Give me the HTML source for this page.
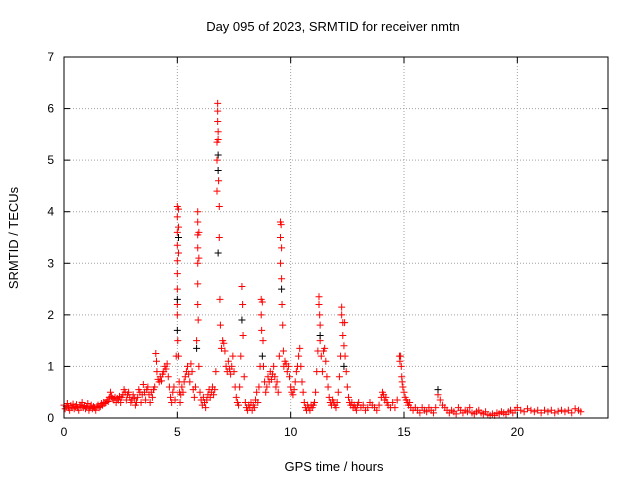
<!DOCTYPE html>
<html><head><meta charset="utf-8"><style>
body{margin:0;background:#fff;}
svg{font-family:"Liberation Sans",sans-serif;}
</style></head><body>
<svg id="c" width="640" height="480" xmlns="http://www.w3.org/2000/svg">
<text x="333" y="31" text-anchor="middle" font-size="13">Day 095 of 2023, SRMTID for receiver nmtn</text>
<text x="334" y="471" text-anchor="middle" font-size="13">GPS time / hours</text>
<text transform="translate(18,238) rotate(-90)" text-anchor="middle" font-size="13">SRMTID / TECUs</text>
<g id="grid"></g><g id="marks"></g>
<rect x="64" y="57" width="544" height="361" fill="none" stroke="#000"/>
</svg>
<script>
const xTicks=[0,5,10,15,20];
const yTicks=[0,1,2,3,4,5,6,7];
const redPts=[
[0.0,0.25],[0.05,0.18],[0.1,0.22],[0.15,0.28],[0.2,0.2],[0.25,0.15],[0.3,0.24],[0.35,0.2],[0.4,0.27],[0.45,0.18],[0.5,0.22],[0.55,0.26],[0.6,0.2],[0.65,0.15],[0.7,0.25],[0.75,0.22],[0.8,0.3],[0.85,0.2],[0.9,0.24],[0.95,0.18],[1.0,0.22],[1.05,0.28],[1.1,0.15],[1.15,0.2],[1.2,0.25],[1.25,0.18],[1.3,0.22],[1.35,0.2],[1.4,0.15],[1.45,0.22],[1.5,0.25],[1.55,0.2],[1.6,0.22],[1.65,0.28],[1.7,0.25],[1.75,0.3],[1.8,0.28],[1.85,0.3],[1.9,0.35],[1.95,0.32],
[2.0,0.4],[2.05,0.5],[2.1,0.42],[2.15,0.38],[2.2,0.35],[2.25,0.4],[2.3,0.3],[2.35,0.38],[2.4,0.35],[2.45,0.42],[2.5,0.3],[2.55,0.4],[2.6,0.45],[2.65,0.55],[2.7,0.5],[2.75,0.35],[2.8,0.45],[2.85,0.5],[2.9,0.4],[2.95,0.3],[3.0,0.35],[3.05,0.45],[3.1,0.38],[3.15,0.25],[3.2,0.3],[3.25,0.4],[3.3,0.55],[3.35,0.5],[3.4,0.3],[3.45,0.45],[3.5,0.65],[3.55,0.5],[3.6,0.35],[3.65,0.55],[3.7,0.6],[3.75,0.45],[3.8,0.3],[3.85,0.5],[3.9,0.4],[3.95,0.55],
[4.0,0.6],[4.05,1.25],[4.08,1.1],[4.1,0.9],[4.15,0.75],[4.2,0.7],[4.25,0.8],[4.3,0.72],[4.35,0.85],[4.4,0.9],[4.45,1.0],[4.5,0.95],[4.55,1.05],[4.6,0.8],[4.65,0.6],[4.7,0.4],[4.75,0.3],[4.8,0.5],[4.85,0.6],[4.9,0.35],[4.95,1.2],
[5.0,4.1],[5.0,3.9],[5.0,3.6],[5.0,3.35],[5.0,3.05],[5.0,2.8],[5.0,2.5],[5.0,2.2],[5.0,2.0],[5.02,1.5],[5.05,4.05],[5.05,3.7],[5.05,3.2],[5.05,1.2],[5.08,0.7],[5.1,0.5],[5.12,0.3],[5.15,0.45],[5.2,0.6],[5.25,0.5],[5.3,0.7],[5.35,0.8],[5.4,0.9],[5.45,1.0],[5.5,0.85],[5.55,0.7],[5.6,1.05],[5.65,0.9],[5.7,0.55],[5.75,0.4],[5.8,0.6],[5.85,1.5],
[5.9,4.0],[5.9,3.8],[5.9,3.55],[5.9,3.3],[5.9,3.0],[5.9,2.6],[5.9,2.2],[5.92,1.9],[5.95,3.6],[5.95,3.1],[5.95,1.0],[6.0,0.5],[6.05,0.35],[6.1,0.25],[6.15,0.4],[6.2,0.3],[6.25,0.2],[6.3,0.35],[6.35,0.45],[6.4,0.55],[6.45,0.4],[6.5,0.5],[6.55,0.6],[6.6,0.45],[6.65,0.55],[6.7,0.9],
[6.75,5.35],[6.75,5.0],[6.75,4.4],[6.78,6.1],[6.78,5.95],[6.78,5.75],[6.8,5.55],[6.8,5.4],[6.82,4.6],[6.85,4.1],[6.85,3.5],[6.88,2.3],[6.9,1.8],[6.95,1.35],[7.0,1.5],[7.05,1.45],[7.1,1.3],[7.15,1.0],[7.2,0.9],[7.25,1.1],[7.3,0.95],[7.35,0.85],[7.4,1.0],[7.45,1.2],[7.5,0.9],[7.55,0.6],[7.6,0.4],[7.65,0.3],[7.7,0.25],[7.75,0.6],[7.8,1.2],[7.85,2.55],[7.88,2.2],[7.9,1.6],[7.95,0.8],
[8.0,0.3],[8.05,0.2],[8.1,0.15],[8.15,0.25],[8.2,0.2],[8.25,0.3],[8.3,0.15],[8.35,0.25],[8.4,0.2],[8.45,0.35],[8.5,0.5],[8.55,0.3],[8.6,0.6],[8.65,1.0],[8.7,2.3],[8.7,2.0],[8.72,1.7],[8.75,2.25],[8.78,1.5],[8.8,1.0],[8.85,0.7],[8.9,0.5],[8.95,0.6],[9.0,0.8],[9.05,0.7],[9.1,0.9],[9.15,0.75],[9.2,0.85],[9.25,1.0],[9.3,0.8],[9.35,0.6],[9.4,0.7],[9.45,0.5],[9.5,1.2],
[9.55,3.8],[9.55,3.5],[9.55,3.0],[9.58,3.75],[9.6,3.3],[9.6,2.7],[9.62,2.2],[9.65,1.8],[9.68,1.3],[9.7,1.0],[9.75,1.1],[9.8,1.05],[9.85,0.9],[9.9,1.0],[9.95,0.8],[10.0,0.6],[10.05,0.5],[10.1,0.45],[10.15,0.55],[10.2,0.7],[10.25,0.9],[10.3,1.0],[10.35,1.2],[10.4,1.35],[10.45,1.0],[10.5,0.7],[10.55,0.5],[10.6,0.3],[10.65,0.2],[10.7,0.15],[10.75,0.25],[10.8,0.2],[10.85,0.15],[10.9,0.25],[10.95,0.2],[11.0,0.25],[11.05,0.3],[11.1,0.5],[11.15,0.9],[11.2,1.3],
[11.25,2.35],[11.25,2.2],[11.28,2.0],[11.3,1.8],[11.3,1.5],[11.35,1.2],[11.4,0.9],[11.45,1.3],[11.5,1.35],[11.55,1.1],[11.6,0.8],[11.65,0.6],[11.7,0.4],[11.75,0.3],[11.8,0.25],[11.85,0.35],[11.9,0.3],[11.95,0.25],[12.0,0.2],[12.05,0.3],[12.1,0.5],[12.15,0.8],[12.2,1.2],
[12.25,2.15],[12.25,2.0],[12.3,1.85],[12.3,1.6],[12.35,1.4],[12.38,1.85],[12.4,1.2],[12.45,0.9],[12.5,0.6],[12.55,0.4],[12.6,0.3],[12.65,0.25],[12.7,0.3],[12.75,0.2],[12.8,0.25],[12.85,0.2],[12.9,0.15],[12.95,0.25],[13.0,0.3],[13.1,0.2],[13.2,0.25],[13.3,0.15],[13.4,0.2],[13.5,0.3],[13.6,0.25],[13.7,0.2],[13.8,0.15],[13.9,0.25],[14.0,0.4],[14.05,0.5],[14.1,0.45],[14.15,0.35],[14.2,0.4],[14.25,0.3],[14.3,0.25],[14.4,0.2],[14.5,0.3],[14.6,0.2],[14.7,0.35],
[14.8,1.2],[14.82,1.1],[14.85,1.2],[14.88,1.0],[14.9,0.8],[14.92,0.7],[14.95,0.6],[15.0,0.5],[15.05,0.4],[15.1,0.35],[15.15,0.3],[15.2,0.25],[15.25,0.3],[15.3,0.2],[15.4,0.15],[15.5,0.2],[15.6,0.15],[15.7,0.1],[15.8,0.2],[15.9,0.15],[16.0,0.12],[16.1,0.2],[16.2,0.15],[16.3,0.1],[16.4,0.2],[16.5,0.45],[16.6,0.35],[16.7,0.25],[16.8,0.2],[16.9,0.15],
[17.0,0.1],[17.1,0.15],[17.2,0.12],[17.3,0.08],[17.4,0.2],[17.5,0.15],[17.6,0.1],[17.7,0.15],[17.8,0.12],[17.9,0.2],[18.0,0.1],[18.1,0.08],[18.2,0.12],[18.3,0.15],[18.4,0.1],[18.5,0.08],[18.6,0.12],[18.7,0.06],[18.8,0.05],[18.9,0.08],[19.0,0.05],[19.1,0.1],[19.2,0.08],[19.3,0.12],[19.4,0.1],[19.5,0.07],[19.6,0.12],[19.7,0.15],[19.8,0.1],[19.9,0.15],
[20.0,0.2],[20.15,0.15],[20.3,0.12],[20.45,0.18],[20.6,0.15],[20.75,0.12],[20.9,0.15],[21.05,0.1],[21.2,0.15],[21.35,0.12],[21.5,0.15],[21.65,0.1],[21.8,0.13],[21.95,0.15],[22.1,0.12],[22.25,0.15],[22.4,0.1],[22.55,0.18],[22.7,0.15],[22.8,0.12]];
const blackT=[5.0,5.0,5.05,5.85,6.8,6.8,6.8,7.85,8.75,9.6,11.3,12.35,16.5];
const blackV=[1.7,2.3,3.5,1.35,5.1,4.8,3.2,1.9,1.2,2.5,1.6,1.0,0.55];
const X0=64,X1=608,Y0=418,Y1=57,XMAX=24,YMAX=7;
const sx=t=>X0+(X1-X0)*t/XMAX, sy=v=>Y0-(Y0-Y1)*v/YMAX;
const NS='http://www.w3.org/2000/svg';
const grid=document.getElementById('grid'),marks=document.getElementById('marks');
function mk(tag,attrs,parent){const e=document.createElementNS(NS,tag);for(const k in attrs)e.setAttribute(k,attrs[k]);parent.appendChild(e);return e;}
xTicks.forEach(t=>{const x=sx(t);
 if(t>0){const g=mk('line',{x1:x,x2:x,y1:Y0,y2:Y1,stroke:'#a0a0a0','stroke-dasharray':'1,2'},grid);
 
 }
 mk('line',{x1:x,x2:x,y1:Y0,y2:Y0-6,stroke:'#000'},grid);mk('line',{x1:x,x2:x,y1:Y1,y2:Y1+6,stroke:'#000'},grid);
 const l=mk('text',{x:x,y:Y0+18,'text-anchor':'middle','font-size':'12'},grid);l.textContent=t;
 
 });
yTicks.forEach(v=>{const y=sy(v);
 if(v>0&&v<7){const g=mk('line',{x1:X0,x2:X1,y1:y,y2:y,stroke:'#a0a0a0','stroke-dasharray':'1,2'},grid);
 
 }
 mk('line',{x1:X0,x2:X0+6,y1:y,y2:y,stroke:'#000'},grid);mk('line',{x1:X1,x2:X1-6,y1:y,y2:y,stroke:'#000'},grid);
 const l=mk('text',{x:X0-10,y:y+4,'text-anchor':'end','font-size':'12'},grid);l.textContent=v;
 
 });
function plus(t,v,col,name){const x=sx(t),y=sy(v);
 const p=mk('path',{d:`M${x-3.5},${y}h7M${x},${y-3.5}v7`,stroke:col,'stroke-width':'1',fill:'none'},marks);
 
 }
redPts.forEach(p=>plus(p[0],p[1],'#ff0000','red-point'));
blackT.forEach((t,i)=>plus(t,blackV[i],'#000','black-point'));
</script>
</body></html>
